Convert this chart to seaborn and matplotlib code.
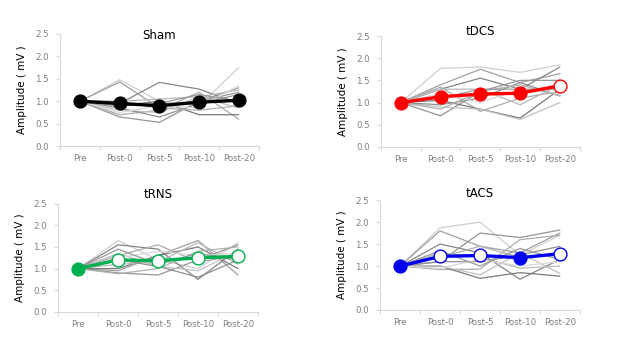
import pandas as pd
import matplotlib
matplotlib.use('Agg')
import matplotlib.pyplot as plt
import seaborn as sns

timepoints = ['Pre', 'Post-0', 'Post-5', 'Post-10', 'Post-20']

# individual subjects (normalised MEP amplitude, mV)
sham_subjects = [
    [1.0, 1.48, 1.00, 0.90, 1.75],
    [1.0, 1.43, 0.85, 1.00, 1.30],
    [1.0, 0.95, 1.42, 1.27, 0.95],
    [1.0, 0.65, 0.53, 1.00, 1.20],
    [1.0, 0.70, 0.80, 1.20, 0.60],
    [1.0, 0.90, 1.00, 0.70, 0.70],
    [1.0, 0.80, 0.75, 1.10, 0.85],
    [1.0, 1.00, 1.05, 1.10, 1.25],
    [1.0, 0.85, 0.65, 0.95, 1.15],
    [1.0, 0.75, 0.90, 0.85, 1.35],
    [1.0, 1.00, 0.85, 0.80, 0.90],
    [1.0, 0.90, 0.95, 1.15, 1.00],
]
tdcs_subjects = [
    [1.0, 1.77, 1.80, 1.68, 1.85],
    [1.0, 1.40, 1.75, 1.45, 1.65],
    [1.0, 1.30, 1.55, 1.30, 1.80],
    [1.0, 0.70, 1.25, 1.50, 1.50],
    [1.0, 1.35, 0.80, 1.10, 1.25],
    [1.0, 1.05, 0.85, 0.65, 1.30],
    [1.0, 0.90, 0.85, 0.62, 1.00],
    [1.0, 1.30, 1.30, 0.95, 1.40],
    [1.0, 0.95, 1.10, 1.45, 1.15],
    [1.0, 1.20, 1.00, 1.30, 1.20],
    [1.0, 0.85, 1.25, 1.40, 1.15],
    [1.0, 1.10, 1.30, 1.30, 1.30],
]
trns_subjects = [
    [1.0, 1.65, 1.20, 1.00, 1.60],
    [1.0, 0.95, 1.30, 1.65, 0.85],
    [1.0, 1.55, 1.45, 0.75, 1.45],
    [1.0, 0.90, 0.85, 1.20, 1.55],
    [1.0, 1.30, 1.55, 1.15, 1.30],
    [1.0, 1.00, 1.30, 1.50, 1.00],
    [1.0, 1.35, 1.05, 0.95, 1.40],
    [1.0, 1.10, 1.15, 1.60, 1.10],
    [1.0, 1.20, 1.05, 0.80, 1.20],
    [1.0, 1.25, 1.40, 1.30, 1.35],
    [1.0, 0.88, 1.00, 1.40, 1.50],
    [1.0, 1.45, 1.10, 1.35, 1.20],
]
tacs_subjects = [
    [1.0, 1.87, 2.00, 1.25, 1.70],
    [1.0, 1.80, 1.45, 1.30, 1.75],
    [1.0, 1.50, 1.30, 0.70, 1.15],
    [1.0, 1.10, 1.75, 1.65, 1.82],
    [1.0, 0.92, 0.93, 1.60, 1.70],
    [1.0, 1.00, 0.72, 0.85, 0.77],
    [1.0, 1.00, 0.80, 1.30, 0.83],
    [1.0, 1.30, 1.20, 0.95, 1.00],
    [1.0, 1.10, 1.10, 1.25, 1.45],
    [1.0, 0.95, 1.15, 1.00, 1.10],
    [1.0, 1.20, 1.45, 1.20, 1.30],
    [1.0, 1.35, 1.00, 1.40, 1.15],
]

# group means and significance (hollow marker = significant)
sham_mean = [1.00, 0.95, 0.90, 0.98, 1.02]
tdcs_mean = [1.00, 1.13, 1.19, 1.21, 1.38]
trns_mean = [1.00, 1.20, 1.18, 1.25, 1.28]
tacs_mean = [1.00, 1.22, 1.24, 1.19, 1.28]
sham_sig = [False, False, False, False, False]
tdcs_sig = [False, False, False, False, True]
trns_sig = [False, True, True, True, True]
tacs_sig = [False, True, True, False, True]

grays = ['#cfcfcf', '#a0a0a0', '#858585', '#959595', '#acacac', '#7a7a7a',
         '#c0c0c0', '#b8b8b8', '#909090', '#d8d8d8', '#b0b0b0', '#9a9a9a']

# title, subjects, mean, significance, colour, axes rect, title pad
panels = [
    ('Sham', sham_subjects, sham_mean, sham_sig, '#000000', [0.094, 0.594, 0.310, 0.312], -4),
    ('tDCS', tdcs_subjects, tdcs_mean, tdcs_sig, '#ff0000', [0.595, 0.592, 0.311, 0.308], 1),
    ('tRNS', trns_subjects, trns_mean, trns_sig, '#00b050', [0.091, 0.134, 0.312, 0.300], 4),
    ('tACS', tacs_subjects, tacs_mean, tacs_sig, '#0000ee', [0.594, 0.139, 0.312, 0.305], 2),
]

sns.set_style('white')
plt.rcParams['font.family'] = ['DejaVu Sans']

fig = plt.figure(figsize=(6.4, 3.6), dpi=100)

for title, subjects, mean, sig, color, pos, tpad in panels:
    ax = fig.add_axes(pos)
    rows = []
    for s, vals in enumerate(subjects):
        for t, v in enumerate(vals):
            rows.append({'subject': s, 'time': t, 'amp': v})
    df = pd.DataFrame(rows)
    sns.lineplot(data=df, x='time', y='amp', hue='subject', palette=grays[:len(subjects)],
                 estimator=None, linewidth=0.9, legend=False, ax=ax)

    mdf = pd.DataFrame({'time': range(len(timepoints)), 'amp': mean, 'sig': sig})
    sns.lineplot(data=mdf, x='time', y='amp', color=color, linewidth=2.4, ax=ax, zorder=5)
    filled = mdf[~mdf['sig']]
    hollow = mdf[mdf['sig']]
    sns.scatterplot(data=filled, x='time', y='amp', color=color, s=85,
                    edgecolor=color, linewidth=1, ax=ax, zorder=6)
    sns.scatterplot(data=hollow, x='time', y='amp', color='white', s=85,
                    edgecolor=color, linewidth=1, ax=ax, zorder=6)

    ax.set_xlim(-0.5, 4.5)
    ax.set_ylim(0, 2.5)
    ax.set_xticks(range(len(timepoints)))
    ax.set_xticklabels(timepoints)
    ax.set_xticks([i - 0.5 for i in range(len(timepoints) + 1)], minor=True)
    ax.set_yticks([0, 0.5, 1.0, 1.5, 2.0, 2.5])
    ax.set_yticklabels(['0.0', '0.5', '1.0', '1.5', '2.0', '2.5'])
    ax.tick_params(axis='x', which='major', length=0, labelsize=6.2, labelcolor='#7f7f7f', pad=6)
    ax.tick_params(axis='x', which='minor', length=3, color='#d9d9d9', width=0.8, direction='out', bottom=True)
    ax.tick_params(axis='y', length=3, color='#d9d9d9', width=0.8, labelsize=6.2,
                   labelcolor='#7f7f7f', direction='out', left=True, pad=5)
    for side in ['top', 'right']:
        ax.spines[side].set_visible(False)
    for side in ['left', 'bottom']:
        ax.spines[side].set_color('#d9d9d9')
        ax.spines[side].set_linewidth(0.8)
    ax.set_xlabel('')
    ax.set_ylabel('Amplitude ( mV )', fontsize=7.5, color='black', labelpad=6)
    ax.set_title(title, fontsize=8.5, color='black', pad=tpad)

fig.savefig('out.png', dpi=100)
